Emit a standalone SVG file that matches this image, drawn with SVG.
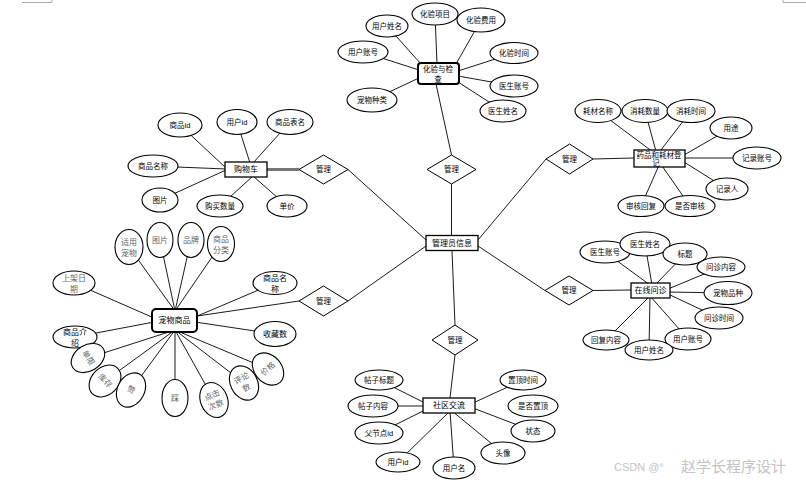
<svg xmlns="http://www.w3.org/2000/svg" width="806" height="484" viewBox="0 0 806 484">
<style>
.l{stroke:#000;stroke-width:0.9;fill:none}
.e{fill:#fff;stroke:#000;stroke-width:1.1}
.r{fill:#fff;stroke:#000;stroke-width:1.3}
.rr{fill:#fff;stroke:#000;stroke-width:2}
.d{fill:#fff;stroke:#000;stroke-width:1}
text{font-family:"Liberation Sans","Noto Sans CJK SC",sans-serif;font-size:7.5px;text-anchor:middle;dominant-baseline:central;fill:#000}
.b{font-size:8px}
.g{fill:#666;font-size:8px}
.w{fill:#c4c4c4;font-size:15px;text-anchor:start}
</style>
<rect width="806" height="484" fill="#fff"/>
<g id="marks" fill="none" stroke="#aaa" stroke-width="1">
<polyline points="22,2.5 52,2.5 52,0"/>
<polyline points="783,0 783,2.5 806,2.5"/>
</g>
<g id="connectors">
<line class="l" x1="348" y1="169.5" x2="426" y2="240"/>
<line class="l" x1="348" y1="301" x2="426" y2="246"/>
<line class="l" x1="451.5" y1="184" x2="451.5" y2="235"/>
<line class="l" x1="452" y1="251" x2="455" y2="325"/>
<line class="l" x1="478" y1="240" x2="546" y2="159"/>
<line class="l" x1="478" y1="246" x2="545" y2="290.5"/>
<line x1="267" y1="169.5" x2="299" y2="169.5" stroke="#777" stroke-width="3"/>
<line class="l" x1="197" y1="316" x2="299" y2="301"/>
<line class="l" x1="436" y1="84" x2="451.5" y2="155"/>
<line class="l" x1="593" y1="159" x2="634" y2="158"/>
<line class="l" x1="593" y1="290.5" x2="631" y2="290"/>
<line class="l" x1="455" y1="355" x2="450" y2="398"/>
<!-- 购物车 -->
<line class="l" x1="180" y1="125" x2="226" y2="168"/>
<line class="l" x1="237" y1="122" x2="250" y2="163"/>
<line class="l" x1="290" y1="122" x2="253" y2="163"/>
<line class="l" x1="153" y1="166" x2="226" y2="169"/>
<line class="l" x1="160" y1="200" x2="226" y2="170"/>
<line class="l" x1="220" y1="206" x2="253" y2="176"/>
<line class="l" x1="287" y1="206" x2="253" y2="176"/>
<!-- 化验与检查 -->
<line class="l" x1="387" y1="26" x2="421" y2="64"/>
<line class="l" x1="435" y1="14" x2="437" y2="64"/>
<line class="l" x1="481" y1="20" x2="456" y2="64"/>
<line class="l" x1="363" y1="52" x2="419" y2="70"/>
<line class="l" x1="514" y1="53" x2="458" y2="71"/>
<line class="l" x1="514" y1="86" x2="458" y2="76"/>
<line class="l" x1="503" y1="111" x2="458" y2="82"/>
<line class="l" x1="372" y1="100" x2="419" y2="78"/>
<!-- 药品和耗材登记 -->
<line class="l" x1="598" y1="111" x2="657" y2="155"/>
<line class="l" x1="645" y1="111" x2="657" y2="155"/>
<line class="l" x1="691" y1="111" x2="657" y2="155"/>
<line class="l" x1="731" y1="128" x2="684" y2="155"/>
<line class="l" x1="757" y1="158" x2="684" y2="158"/>
<line class="l" x1="727" y1="189" x2="684" y2="162"/>
<line class="l" x1="641" y1="206" x2="660" y2="163"/>
<line class="l" x1="690" y1="206" x2="660" y2="163"/>
<!-- 在线问诊 -->
<line class="l" x1="605" y1="252" x2="650" y2="285"/>
<line class="l" x1="645" y1="244" x2="652" y2="285"/>
<line class="l" x1="685" y1="254" x2="655" y2="285"/>
<line class="l" x1="721" y1="267" x2="668" y2="289"/>
<line class="l" x1="728" y1="293" x2="668" y2="292"/>
<line class="l" x1="719" y1="318" x2="668" y2="294"/>
<line class="l" x1="688" y1="339" x2="650" y2="296"/>
<line class="l" x1="649" y1="350" x2="650" y2="296"/>
<line class="l" x1="606" y1="340" x2="650" y2="296"/>
<!-- 社区交流 -->
<line class="l" x1="379" y1="380" x2="425" y2="403"/>
<line class="l" x1="373" y1="406" x2="425" y2="406"/>
<line class="l" x1="379" y1="433" x2="425" y2="410"/>
<line class="l" x1="398" y1="462" x2="450" y2="411"/>
<line class="l" x1="454" y1="468" x2="450" y2="411"/>
<line class="l" x1="503" y1="453" x2="452" y2="411"/>
<line class="l" x1="533" y1="431" x2="473" y2="408"/>
<line class="l" x1="523" y1="380" x2="473" y2="403"/>
<!-- 宠物商品 -->
<line class="l" x1="129" y1="247" x2="175" y2="311"/>
<line class="l" x1="160" y1="240" x2="175" y2="311"/>
<line class="l" x1="191" y1="240" x2="175" y2="311"/>
<line class="l" x1="221" y1="244" x2="175" y2="311"/>
<line class="l" x1="74" y1="283" x2="154" y2="318"/>
<line class="l" x1="75" y1="337" x2="154" y2="322"/>
<line class="l" x1="275" y1="283" x2="195" y2="317"/>
<line class="l" x1="275" y1="334" x2="195" y2="322"/>
<line class="l" x1="88" y1="358" x2="175" y2="330"/>
<line class="l" x1="105" y1="381" x2="175" y2="330"/>
<line class="l" x1="131" y1="390" x2="175" y2="330"/>
<line class="l" x1="175" y1="398" x2="175" y2="330"/>
<line class="l" x1="214" y1="400" x2="175" y2="330"/>
<line class="l" x1="244" y1="383" x2="175" y2="330"/>
<line class="l" x1="268" y1="369" x2="175" y2="330"/>
</g>
<g id="admin"><rect class="r" x="426" y="235.5" width="52" height="15"/><text class="b" x="452" y="243">管理员信息</text></g>
<g id="rel-cart"><polygon class="d" points="299,169.5 323.5,155 348,169.5 323.5,184"/><text x="323.5" y="169.5">管理</text></g>
<g id="rel-pet"><polygon class="d" points="299,301 323.5,286 348,301 323.5,316"/><text x="323.5" y="301">管理</text></g>
<g id="rel-lab"><polygon class="d" points="427,169.5 451.5,155 476,169.5 451.5,184"/><text x="451.5" y="169.5">管理</text></g>
<g id="rel-drug"><polygon class="d" points="546,159 569.5,144 593,159 569.5,174"/><text x="569.5" y="159">管理</text></g>
<g id="rel-consult"><polygon class="d" points="545,290.5 569,276 593,290.5 569,305"/><text x="569" y="290.5">管理</text></g>
<g id="rel-forum"><polygon class="d" points="432,340 455,325 478,340 455,355"/><text x="455" y="340">管理</text></g>

<g id="cart"><rect class="r" x="225" y="162" width="42" height="15"/><text class="b" x="246" y="169.5">购物车</text></g>
<g id="cart-attrs">
<ellipse class="e" cx="180" cy="125" rx="22" ry="12"/><text x="180" y="125">商品id</text>
<ellipse class="e" cx="237" cy="122" rx="20" ry="12.5"/><text x="237" y="122">用户id</text>
<ellipse class="e" cx="290" cy="122" rx="23" ry="12.5"/><text x="290" y="122">商品表名</text>
<ellipse class="e" cx="153" cy="166" rx="25" ry="11"/><text x="153" y="166">商品名称</text>
<ellipse class="e" cx="160" cy="200" rx="18" ry="12"/><text x="160" y="200">图片</text>
<ellipse class="e" cx="220" cy="206" rx="23" ry="11"/><text x="220" y="206">购买数量</text>
<ellipse class="e" cx="287" cy="206" rx="20" ry="11"/><text x="287" y="206">单价</text>
</g>

<g id="lab"><rect class="rr" x="418" y="63" width="41" height="21" rx="3"/><text x="438" y="69">化验与检</text><text x="438" y="79">查</text></g>
<g id="lab-attrs">
<ellipse class="e" cx="387" cy="26" rx="21" ry="11"/><text x="387" y="26">用户姓名</text>
<ellipse class="e" cx="435" cy="14" rx="23" ry="11"/><text x="435" y="14">化验项目</text>
<ellipse class="e" cx="481" cy="20" rx="24" ry="12"/><text x="481" y="20">化验费用</text>
<ellipse class="e" cx="363" cy="52" rx="25" ry="11"/><text x="363" y="52">用户账号</text>
<ellipse class="e" cx="514" cy="53" rx="24" ry="10.5"/><text x="514" y="53">化验时间</text>
<ellipse class="e" cx="514" cy="86" rx="24" ry="11"/><text x="514" y="86">医生账号</text>
<ellipse class="e" cx="503" cy="111" rx="23" ry="11"/><text x="503" y="111">医生姓名</text>
<ellipse class="e" cx="372" cy="100" rx="25" ry="12"/><text x="372" y="100">宠物种类</text>
</g>

<g id="drug"><rect class="r" x="634" y="150" width="51" height="17"/><text x="659" y="155">药品和耗材登</text><text x="656" y="163.5">记</text></g>
<g id="drug-attrs">
<ellipse class="e" cx="598" cy="111" rx="23" ry="11.5"/><text x="598" y="111">耗材名称</text>
<ellipse class="e" cx="645" cy="111" rx="23" ry="11.5"/><text x="645" y="111">消耗数量</text>
<ellipse class="e" cx="691" cy="111" rx="24" ry="11.5"/><text x="691" y="111">消耗时间</text>
<ellipse class="e" cx="731" cy="128" rx="21" ry="11"/><text x="731" y="128">用途</text>
<ellipse class="e" cx="757" cy="158" rx="24" ry="11"/><text x="757" y="158">记录账号</text>
<ellipse class="e" cx="727" cy="189" rx="21" ry="11"/><text x="727" y="189">记录人</text>
<ellipse class="e" cx="641" cy="206" rx="23" ry="10.5"/><text x="641" y="206">审核回复</text>
<ellipse class="e" cx="690" cy="206" rx="25" ry="10.5"/><text x="690" y="206">是否审核</text>
</g>

<g id="consult"><rect class="r" x="631" y="283" width="39" height="15"/><text class="b" x="650.5" y="290.5">在线问诊</text></g>
<g id="consult-attrs">
<ellipse class="e" cx="605" cy="252" rx="25" ry="11"/><text x="605" y="252">医生账号</text>
<ellipse class="e" cx="645" cy="244" rx="25" ry="12"/><text x="645" y="244">医生姓名</text>
<ellipse class="e" cx="685" cy="254" rx="22" ry="11"/><text x="685" y="254">标题</text>
<ellipse class="e" cx="721" cy="267" rx="24" ry="10"/><text x="721" y="267">问诊内容</text>
<ellipse class="e" cx="728" cy="293" rx="24" ry="11.5"/><text x="728" y="293">宠物品种</text>
<ellipse class="e" cx="719" cy="318" rx="24" ry="11"/><text x="719" y="318">问诊时间</text>
<ellipse class="e" cx="688" cy="339" rx="23" ry="11"/><text x="688" y="339">用户账号</text>
<ellipse class="e" cx="606" cy="340" rx="23" ry="10"/><text x="606" y="340">回复内容</text>
<ellipse class="e" cx="649" cy="350" rx="24" ry="10"/><text x="649" y="350">用户姓名</text>
</g>

<g id="forum"><rect class="r" x="423" y="398" width="52" height="15"/><text class="b" x="449" y="405.5">社区交流</text></g>
<g id="forum-attrs">
<ellipse class="e" cx="379" cy="380" rx="24" ry="10"/><text x="379" y="380">帖子标题</text>
<ellipse class="e" cx="373" cy="406" rx="25" ry="11"/><text x="373" y="406">帖子内容</text>
<ellipse class="e" cx="379" cy="433" rx="24" ry="11"/><text x="379" y="433">父节点id</text>
<ellipse class="e" cx="398" cy="462" rx="22" ry="10"/><text x="398" y="462">用户id</text>
<ellipse class="e" cx="454" cy="468" rx="21" ry="11"/><text x="454" y="468">用户名</text>
<ellipse class="e" cx="503" cy="453" rx="22" ry="11"/><text x="503" y="453">头像</text>
<ellipse class="e" cx="533" cy="431" rx="22" ry="11"/><text x="533" y="431">状态</text>
<ellipse class="e" cx="533" cy="406" rx="25" ry="11"/><text x="533" y="406">是否置顶</text>
<ellipse class="e" cx="523" cy="380" rx="23" ry="10"/><text x="523" y="380">置顶时间</text>
</g>

<g id="pet"><rect class="rr" x="152" y="309" width="45" height="23" rx="4"/><text class="b" x="174.5" y="320.5">宠物商品</text></g>
<g id="pet-attrs">
<ellipse class="e" cx="74" cy="283" rx="21" ry="12"/><text class="g" x="74" y="278.5">上架日</text><text class="g" x="74" y="289">期</text>
<ellipse class="e" cx="129" cy="247" rx="14" ry="17.5"/><text class="g" x="129" y="242">适用</text><text class="g" x="129" y="253">宠物</text>
<ellipse class="e" cx="160" cy="240" rx="13" ry="17.5"/><text class="g" x="160" y="240">图片</text>
<ellipse class="e" cx="191" cy="240" rx="13" ry="17.5"/><text class="g" x="191" y="240">品牌</text>
<ellipse class="e" cx="221" cy="244" rx="13.5" ry="17.5"/><text class="g" x="221" y="239">商品</text><text class="g" x="221" y="250">分类</text>
<ellipse class="e" cx="275" cy="283" rx="22" ry="11.5"/><text class="b" x="275" y="278.5">商品名</text><text class="b" x="275" y="289">称</text>
<ellipse class="e" cx="275" cy="334" rx="21" ry="12.5"/><text class="b" x="275" y="334">收藏数</text>
<ellipse class="e" cx="75" cy="337" rx="22" ry="11"/><text class="b" x="75" y="332.5">商品介</text><text class="b" x="75" y="343">绍</text>
<g transform="translate(88,358) rotate(58)"><ellipse class="e" rx="13" ry="18"/><text class="g" x="0" y="0">单限</text></g>
<g transform="translate(105,381) rotate(45)"><ellipse class="e" rx="13.5" ry="18"/><text class="g" x="0" y="0">库存</text></g>
<g transform="translate(131,390) rotate(28)"><ellipse class="e" rx="13.5" ry="18"/><text class="g" x="0" y="0">赞</text></g>
<g transform="translate(175,398)"><ellipse class="e" rx="13" ry="18.5"/><text class="g" x="0" y="0">踩</text></g>
<g transform="translate(214,400) rotate(-22)"><ellipse class="e" rx="13.5" ry="18"/><text class="g" x="0" y="-5">点击</text><text class="g" x="0" y="5.5">次数</text></g>
<g transform="translate(244,383) rotate(-28)"><ellipse class="e" rx="13.5" ry="18"/><text class="g" x="0" y="-5">评论</text><text class="g" x="0" y="5.5">数</text></g>
<g transform="translate(268,369) rotate(-42)"><ellipse class="e" rx="13.5" ry="18"/><text class="g" x="0" y="0">价格</text></g>
</g>
<g id="watermark"><text class="w" x="614" y="467" style="font-size:11px">CSDN @°</text><text class="w" x="681" y="466">赵学长程序设计</text></g>
</svg>
